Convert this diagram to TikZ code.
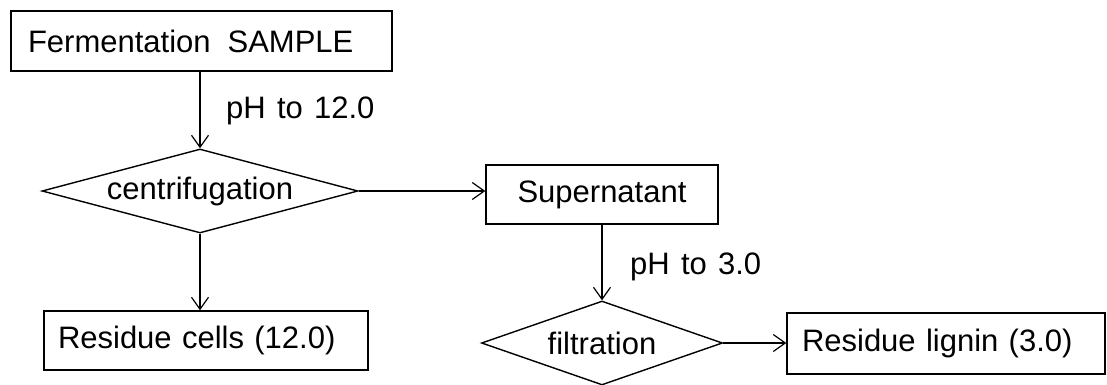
\documentclass[tikz,border=0pt]{standalone}
\usepackage{fontspec}
\setmainfont{Liberation Sans}[WordSpace=1.3]
\usetikzlibrary{shapes.geometric,arrows.meta}
\begin{document}
\begin{tikzpicture}[x=1pt,y=-1pt,
  every node/.style={font=\fontsize{31}{37}\selectfont},
  boxnode/.style={draw,line width=1.4pt,inner ysep=0pt,inner xsep=#1,rectangle,align=left},
  boxnode/.default=15pt,
  decision/.style={draw,line width=1.4pt,inner sep=0pt,diamond},
  flow/.style={line width=1.2pt,-{Straight Barb[length=12pt,width=17pt,line width=1.2pt]}},
  lbl/.style={anchor=west,inner sep=0pt}]
\useasboundingbox (0,0) rectangle (1107,385);
\node[boxnode=17pt,text width=347pt,minimum height=60pt] (ferm) at (201.5,41) {Fermentation\hspace{17pt}SAMPLE};
\node[decision,aspect=3.76,minimum width=316pt,minimum height=84pt] (cent) at (200,191) {centrifugation};
\node[boxnode=14pt,text width=296pt,minimum height=59pt] (cells) at (206,340.5) {Residue cells (12.0)};
\node[boxnode=0pt,minimum width=232pt,minimum height=59pt,align=center] (sup) at (602,194.5) {Supernatant};
\node[decision,aspect=2.87,minimum width=241pt,minimum height=84pt] (filt) at (602,343) {filtration};
\node[boxnode=15pt,text width=288pt,minimum height=61pt] (lig) at (946,343.5) {Residue lignin (3.0)};
\node[lbl] (l1) at (226,111) {pH to 12.0};
\node[lbl] (l2) at (630,267) {pH to 3.0};
\draw[flow] (cent.north |- ferm.south) -- (cent.north);
\draw[flow] (cent.south) -- (cent.south |- cells.north);
\draw[flow] (cent.east) -- (cent.east -| sup.west);
\draw[flow] (filt.north |- sup.south) -- (filt.north);
\draw[flow] (filt.east) -- (filt.east -| lig.west);
\end{tikzpicture}
\end{document}
